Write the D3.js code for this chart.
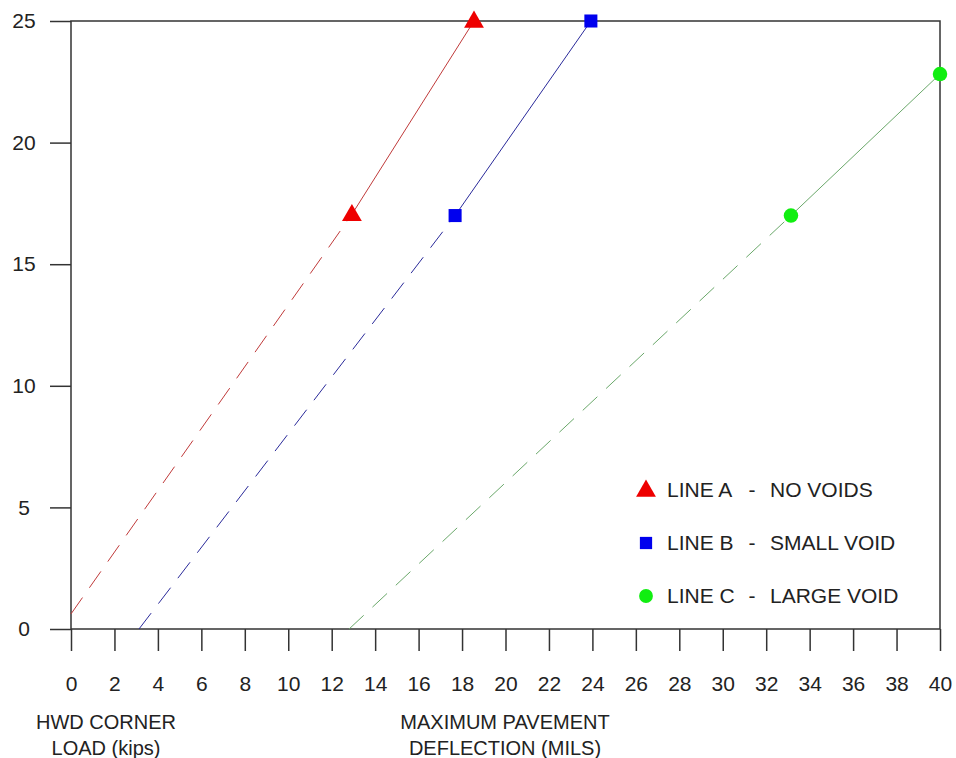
<!DOCTYPE html>
<html><head><meta charset="utf-8">
<script src="https://cdn.jsdelivr.net/npm/d3@7/dist/d3.min.js"></script>
<style>body{margin:0;background:#fff}svg{display:block}text{font-family:"Liberation Sans",Arial,sans-serif;fill:#222}</style>
</head><body><svg id="c" width="956" height="758"></svg>
<script>
const xTicks = d3.range(0, 41, 2);
const yTicks = [0, 5, 10, 15, 20, 25];
const seriesLabels = ["LINE A", "LINE B", "LINE C"];
const seriesDescs = ["NO VOIDS", "SMALL VOID", "LARGE VOID"];
const seriesMarkers = ["triangle", "square", "circle"];
const markerColors = ["#ee0000", "#0000ee", "#11ee11"];
const lineColors = ["#c03a3a", "#2a2a9a", "#6aa86a"];
// measured points [deflection, load]
const lineAPoints = [[12.93, 17.05], [18.55, 25]];
const lineBPoints = [[17.68, 17.0], [23.93, 25]];
const lineCPoints = [[33.14, 17.0], [40, 22.82]];
// dashed extrapolations to the axes
const lineAExtrap = [[0, 0.62], [12.93, 17.05]];
const lineBExtrap = [[3.13, 0], [17.68, 17.0]];
const lineCExtrap = [[12.8, 0], [33.14, 17.0]];

const svg = d3.select("#c");
const L = 71, R = 940, T = 21, B = 629;
const FS = 21;
const x = d3.scaleLinear().domain([0, 40]).range([L, R]);
const y = d3.scaleLinear().domain([0, 25]).range([B, T]);

// frame
svg.append("rect").attr("x", L).attr("y", T).attr("width", R - L).attr("height", B - T)
  .attr("fill", "none").attr("stroke", "#333").attr("stroke-width", 1.5);

// x axis
const xa = svg.append("g").attr("transform", `translate(0,${B})`)
  .call(d3.axisBottom(x).tickValues(xTicks).tickSize(22).tickPadding(25).tickFormat(d3.format("d")));
xa.select(".domain").remove();
xa.selectAll("line").attr("stroke", "#333").attr("stroke-width", 1.5);
xa.selectAll("text").attr("font-size", FS).style("font-family", "Liberation Sans, Arial").attr("fill", "#222");

// y axis
const ya = svg.append("g").attr("transform", `translate(${L},0)`)
  .call(d3.axisLeft(y).tickValues(yTicks).tickSize(21).tickPadding(0).tickFormat(d3.format("d")));
ya.select(".domain").remove();
ya.selectAll("line").attr("stroke", "#333").attr("stroke-width", 1.5);
ya.selectAll("text").attr("font-size", FS).attr("text-anchor", "middle").attr("x", 24 - L)
  .style("font-family", "Liberation Sans, Arial").attr("fill", "#222");

const line = d3.line().x(d => x(d[0])).y(d => y(d[1]));
const solids = [lineAPoints, lineBPoints, lineCPoints];
const dashes = [lineAExtrap, lineBExtrap, lineCExtrap];
dashes.forEach((d, i) => svg.append("path").attr("d", line(d)).attr("fill", "none")
  .attr("stroke", lineColors[i]).attr("stroke-width", 1).attr("stroke-dasharray", "20,12"));
solids.forEach((d, i) => svg.append("path").attr("d", line(d)).attr("fill", "none")
  .attr("stroke", lineColors[i]).attr("stroke-width", 1));

const sym = {triangle: d3.symbolTriangle, square: d3.symbolSquare, circle: d3.symbolCircle};
const sizes = {triangle: 170, square: 170, circle: 165};
solids.forEach((pts, i) => {
  pts.forEach(p => {
    svg.append("path").attr("d", d3.symbol(sym[seriesMarkers[i]], sizes[seriesMarkers[i]])())
      .attr("transform", `translate(${x(p[0])},${y(p[1]) + (seriesMarkers[i] === "triangle" ? 1 : 0)})`)
      .attr("fill", markerColors[i]);
  });
});

// legend
const lg = svg.append("g");
seriesLabels.forEach((n, i) => {
  const yy = 490 + i * 53;
  lg.append("path").attr("d", d3.symbol(sym[seriesMarkers[i]], i === 0 ? 170 : 150)())
    .attr("transform", `translate(646,${yy + (i === 0 ? 1 : 0)})`).attr("fill", markerColors[i]);
  lg.append("text").attr("x", 667).attr("y", yy).attr("dy", "0.35em").attr("font-size", FS).text(n);
  lg.append("text").attr("x", 752).attr("y", yy).attr("dy", "0.35em").attr("font-size", FS)
    .attr("text-anchor", "middle").text("-");
  lg.append("text").attr("x", 770).attr("y", yy).attr("dy", "0.35em").attr("font-size", FS).text(seriesDescs[i]);
});

// axis titles
const t1 = svg.append("text").attr("text-anchor", "middle").attr("font-size", 20);
t1.append("tspan").attr("x", 106).attr("y", 729).text("HWD CORNER");
t1.append("tspan").attr("x", 106).attr("y", 755).text("LOAD (kips)");
const t2 = svg.append("text").attr("text-anchor", "middle").attr("font-size", 20);
t2.append("tspan").attr("x", 505).attr("y", 729).text("MAXIMUM PAVEMENT");
t2.append("tspan").attr("x", 505).attr("y", 755).text("DEFLECTION (MILS)");
</script></body></html>
